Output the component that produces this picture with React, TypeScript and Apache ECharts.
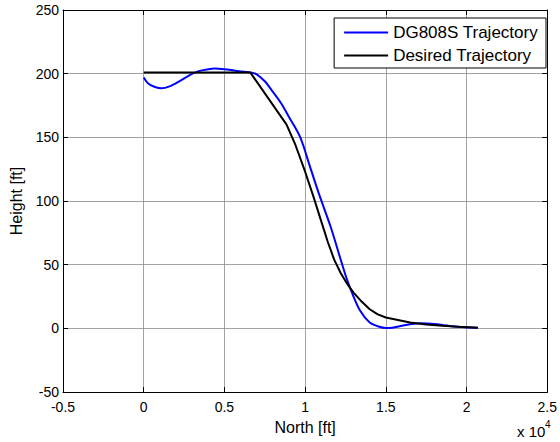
import React, { useEffect, useRef } from "react";
import * as echarts from "echarts";

const xTicks = [-0.5, 0, 0.5, 1, 1.5, 2, 2.5];
const yTicks = [-50, 0, 50, 100, 150, 200, 250];

const seriesNames = ["DG808S Trajectory", "Desired Trajectory"];

// North in units of 1e4 ft, Height in ft
const dgNorth = [0, 0.03, 0.07, 0.11, 0.16, 0.22, 0.28, 0.34, 0.4, 0.44, 0.5, 0.56, 0.62, 0.66, 0.7, 0.75, 0.79, 0.85, 0.9, 0.97, 1.03, 1.09, 1.16, 1.225, 1.26, 1.29, 1.34, 1.4, 1.46, 1.5, 1.54, 1.6, 1.66, 1.72, 1.8, 1.88, 1.95, 2.02, 2.07];
const dgHeight = [197, 192, 189.5, 188.5, 190, 194, 198.5, 202, 203.5, 204, 203.5, 202.5, 201.5, 201, 199.5, 194, 187.5, 177, 166, 150, 127, 104, 79, 52, 38, 28, 14, 4.6, 1.2, 0.3, 0.5, 2, 3.4, 4, 3.5, 2.2, 1.2, 0.6, 0.5];

const desNorth = [0, 0.66, 0.885, 0.94, 1.0, 1.05, 1.1, 1.14, 1.18, 1.22, 1.26, 1.3, 1.35, 1.4, 1.45, 1.5, 1.575, 1.65, 1.75, 1.85, 1.95, 2.07];
const desHeight = [201, 201, 160, 144, 123, 104, 84, 68, 54, 43.5, 35, 28, 21, 15, 11, 8.5, 6.5, 4.5, 3, 2, 1.2, 0.5];

const FONT = "Liberation Sans, Arial, sans-serif";

export default function App() {
  const ref = useRef<HTMLDivElement>(null);
  useEffect(() => {
    if (!ref.current) return;
    const chart = echarts.init(ref.current, null, { renderer: "svg" });
    const zip = (xs: number[], ys: number[]) => xs.map((x, i) => [x, ys[i]]);
    const gridLine = { show: true, lineStyle: { color: "#8c8c8c", width: 0.8 } };
    const axisLine = { show: true, onZero: false, lineStyle: { color: "#000", width: 1 } };
    const tick = { show: true, inside: true, length: 5, lineStyle: { color: "#000" } };
    chart.setOption({
      animation: false,
      backgroundColor: "#fff",
      textStyle: { fontFamily: FONT },
      grid: { left: 63, right: 11, top: 10, bottom: 50, containLabel: false },
      legend: {
        data: seriesNames,
        orient: "vertical",
        right: 14,
        top: 18,
        icon: "rect",
        itemWidth: 44,
        itemHeight: 2,
        itemGap: 6,
        padding: [6, 8, 4, 10],
        borderColor: "#000",
        borderWidth: 1,
        backgroundColor: "#fff",
        textStyle: { fontSize: 17, color: "#000", fontFamily: FONT },
      },
      xAxis: [
        {
          type: "value",
          min: xTicks[0],
          max: xTicks[xTicks.length - 1],
          interval: 0.5,
          position: "bottom",
          name: "North [ft]",
          nameLocation: "middle",
          nameGap: 27,
          nameTextStyle: { fontSize: 16, color: "#000", fontFamily: FONT },
          axisLine,
          axisTick: tick,
          axisLabel: { fontSize: 14, color: "#000", margin: 8, fontFamily: FONT, formatter: (v: number) => String(v) },
          splitLine: gridLine,
        },
        {
          type: "value",
          min: xTicks[0],
          max: xTicks[xTicks.length - 1],
          interval: 0.5,
          position: "top",
          axisLine,
          axisTick: tick,
          axisLabel: { show: false },
          splitLine: { show: false },
        },
      ],
      yAxis: [
        {
          type: "value",
          min: yTicks[0],
          max: yTicks[yTicks.length - 1],
          interval: 50,
          position: "left",
          name: "Height [ft]",
          nameLocation: "middle",
          nameGap: 37,
          nameTextStyle: { fontSize: 16, color: "#000", fontFamily: FONT },
          axisLine,
          axisTick: tick,
          axisLabel: { fontSize: 14, color: "#000", margin: 4, fontFamily: FONT },
          splitLine: gridLine,
        },
        {
          type: "value",
          min: yTicks[0],
          max: yTicks[yTicks.length - 1],
          interval: 50,
          position: "right",
          axisLine,
          axisTick: tick,
          axisLabel: { show: false },
          splitLine: { show: false },
        },
      ],
      series: [
        {
          name: seriesNames[0],
          type: "line",
          data: zip(dgNorth, dgHeight),
          symbol: "none",
          smooth: 0.3,
          lineStyle: { color: "#0000ff", width: 2 },
          itemStyle: { color: "#0000ff" },
        },
        {
          name: seriesNames[1],
          type: "line",
          data: zip(desNorth, desHeight),
          symbol: "none",
          lineStyle: { color: "#000", width: 2 },
          itemStyle: { color: "#000" },
        },
      ],
      graphic: [
        { type: "text", left: 517, top: 424, style: { text: "x 10", fontSize: 15, fill: "#000", fontFamily: FONT } },
        { type: "text", left: 545, top: 419, style: { text: "4", fontSize: 10, fill: "#000", fontFamily: FONT } },
      ],
    });
    return () => chart.dispose();
  }, []);
  return <div ref={ref} style={{ position: "fixed", left: 0, top: 0, width: 560, height: 442 }} />;
}
